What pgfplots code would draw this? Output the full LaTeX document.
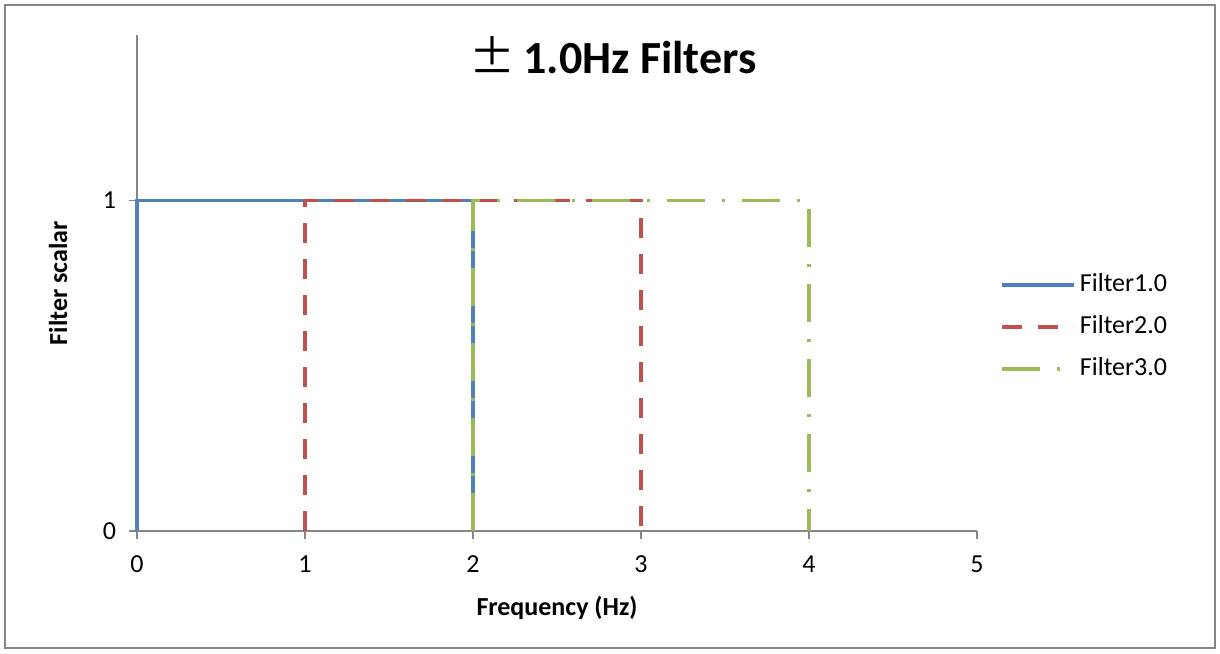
\documentclass[border=0pt]{standalone}
\usepackage{pgfplots}
\pgfplotsset{compat=1.18}
\usepackage{fontspec}
\setmainfont{Carlito}
\newfontfamily\cjk{Noto Sans CJK SC}
\definecolor{cblue}{HTML}{4F81BD}
\definecolor{cred}{HTML}{C0504D}
\definecolor{colive}{HTML}{9BBB59}
\definecolor{cgrid}{HTML}{868686}
\begin{document}
\begin{tikzpicture}
\begin{axis}[
  scale only axis, width=420pt, height=248pt,
  xmin=0, xmax=5, ymin=0, ymax=1.5,
  xtick={0,1,2,3,4,5}, ytick={0,1},
  axis x line*=bottom, axis y line*=left,
  axis line style={color=cgrid, line width=0.75pt},
  tick align=outside, major tick length=4pt,
  tick style={color=cgrid, line width=0.6pt},
  ticklabel style={font=\fontsize{13}{15}\selectfont},
  xticklabel style={yshift=-5pt},
  yticklabel style={xshift=-3pt},
  /pgf/number format/assume math mode=true,
  clip=false,
  legend style={at={(1.0274,0.411)}, anchor=west, draw=none, fill=none,
    font=\fontsize{13}{15}\selectfont, row sep=5pt, inner sep=0pt,
    nodes={inner sep=2pt, text height=9pt, text depth=3pt}},
  legend cell align=left,
  legend image code/.code={\draw[#1] (0pt,0pt) -- (36pt,0pt);},
]
\addplot[cblue, line width=1.75pt] coordinates {(0,0) (0,1) (2,1) (2,0)};
\addlegendentry{Filter1.0}
\addplot[cred, line width=1.75pt, dash pattern=on 10pt off 8pt] coordinates {(1,0) (1,1) (3,1) (3,0)};
\addlegendentry{Filter2.0}
\addplot[colive, line width=1.75pt, dash pattern=on 19pt off 8.5pt on 1.5pt off 8.5pt] coordinates {(2,0) (2,1) (4,1) (4,0)};
\addlegendentry{Filter3.0}
\node[anchor=base, font=\fontsize{23}{27}\selectfont\bfseries] at (rel axis cs:0.567,0.923) {{\cjk\mdseries ±}\,1.0Hz Filters};
\node[anchor=base, font=\fontsize{13}{15}\selectfont\bfseries] at (rel axis cs:0.5,-0.171) {Frequency (Hz)};
\node[anchor=base, rotate=90, font=\fontsize{13}{15}\selectfont\bfseries] at (rel axis cs:-0.0833,0.5) {Filter scalar};
\draw[cgrid, line width=1pt] (rel axis cs:-0.157,-0.2359) rectangle (rel axis cs:1.2833,1.0605);
\path (rel axis cs:-0.1631,-0.246) rectangle (rel axis cs:1.2893,1.0706);
\end{axis}
\end{tikzpicture}
\end{document}
